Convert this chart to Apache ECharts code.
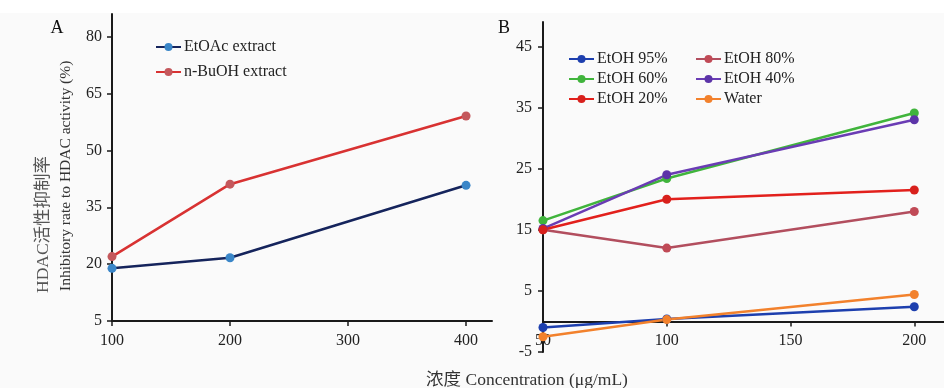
<!DOCTYPE html>
<html>
<head>
<meta charset="utf-8">
<title>HDAC inhibitory rate</title>
<script src="https://cdn.jsdelivr.net/npm/echarts@6/dist/echarts.min.js"></script>
<style>
  html, body { margin: 0; padding: 0; background: #fafafa; }
  #chart { width: 944px; height: 388px; }
</style>
</head>
<body>
<div id="chart"></div>
<script>
  // 图 A：萃取物
  var concA = [100, 200, 400];
  var etoacValues = [18.9, 21.7, 40.8];
  var nbuohValues = [22.0, 41.1, 59.1];
  var ticksAX = [100, 200, 300, 400];
  var ticksAY = [5, 20, 35, 50, 65, 80];

  // 图 B：不同乙醇浓度
  var concB = [50, 100, 200];
  var etoh95Values = [-1.0, 0.4, 2.4];
  var etoh80Values = [15.0, 12.0, 18.0];
  var etoh60Values = [16.5, 23.4, 34.1];
  var etoh40Values = [15.2, 24.0, 33.0];
  var etoh20Values = [15.0, 20.0, 21.5];
  var waterValues = [-2.5, 0.3, 4.4];
  var ticksBX = [50, 100, 150, 200];
  var ticksBY = [-5, 5, 15, 25, 35, 45];

  var SERIF = "'Liberation Serif', 'Noto Sans CJK SC', serif";
  var INK = '#1a1a1a';
  var GRID_B = { left: 543, top: 22, right: 0, bottom: 36 };
  var Y_B = [-5, 49];

  function pairs(xs, ys) {
    return xs.map(function (x, i) { return [x, ys[i]]; });
  }

  function lineSeries(name, idx, xs, ys, lineColor, dotColor) {
    return {
      name: name,
      type: 'line',
      xAxisIndex: idx,
      yAxisIndex: idx,
      data: pairs(xs, ys),
      symbol: 'circle',
      symbolSize: 9,
      lineStyle: { color: lineColor, width: 2.5 },
      itemStyle: { color: dotColor },
      animation: false
    };
  }

  function valueAxis(idx, min, max, ticks, margin) {
    return {
      type: 'value',
      gridIndex: idx,
      min: min,
      max: max,
      splitLine: { show: false },
      axisLine: { show: true, onZero: false, lineStyle: { color: INK, width: 2 } },
      axisTick: { show: true, length: 5, customValues: ticks, lineStyle: { color: INK, width: 1.5 } },
      axisLabel: {
        customValues: ticks,
        margin: margin,
        color: '#222',
        fontSize: 16,
        fontFamily: SERIF
      }
    };
  }

  function legendBlock(left, top, names, gap) {
    return {
      orient: 'vertical',
      left: left,
      top: top,
      padding: 0,
      data: names,
      itemWidth: 25,
      itemHeight: 10,
      itemGap: gap,
      itemStyle: { borderWidth: 0 },
      textStyle: { color: '#222', fontSize: 16, lineHeight: 18, fontFamily: SERIF, padding: [0, 0, 0, -2] }
    };
  }

  var chart = echarts.init(document.getElementById('chart'), null, { renderer: 'canvas' });

  var yA = valueAxis(0, 5, 86, ticksAY, 10);
  var yB = valueAxis(1, Y_B[0], Y_B[1], ticksBY, 11);
  var xA = valueAxis(0, 100, 422, ticksAX, 12);
  var xB = valueAxis(1, 50, 212, ticksBX, 11);

  // 图 B 的横轴画在 y = 0 处（标签随轴线一起上移）
  var plotHB = 388 - GRID_B.top - GRID_B.bottom;
  xB.offset = -(0 - Y_B[0]) / (Y_B[1] - Y_B[0]) * plotHB;

  chart.setOption({
    backgroundColor: '#fafafa',
    animation: false,
    grid: [
      { left: 112, top: 14, right: 452, bottom: 67 },
      GRID_B
    ],
    xAxis: [xA, xB],
    yAxis: [yA, yB],
    legend: [
      legendBlock(155, 38, ['EtOAc extract', 'n-BuOH extract'], 7),
      legendBlock(568, 50, ['EtOH 95%', 'EtOH 60%', 'EtOH 20%'], 2),
      legendBlock(695, 50, ['EtOH 80%', 'EtOH 40%', 'Water'], 2)
    ],
    graphic: [
      { type: 'rect', z: -1, shape: { x: 0, y: 0, width: 944, height: 13 }, style: { fill: '#ffffff' } },
      { type: 'text', x: 57, y: 28, style: { text: 'A', fill: '#111', font: "18px 'Liberation Serif', serif", textAlign: 'center', textVerticalAlign: 'middle' } },
      { type: 'text', x: 504, y: 28, style: { text: 'B', fill: '#111', font: "18px 'Liberation Serif', serif", textAlign: 'center', textVerticalAlign: 'middle' } },
      {
        type: 'text', x: 43, y: 293, rotation: Math.PI / 2,
        style: { text: 'HDAC活性抑制率', fill: '#555', font: "17.5px 'Liberation Serif', 'Noto Sans CJK SC', serif", textAlign: 'left', textVerticalAlign: 'middle' }
      },
      {
        type: 'text', x: 66, y: 291, rotation: Math.PI / 2,
        style: { text: 'Inhibitory rate to HDAC activity (%)', fill: '#333', font: "15.5px 'Liberation Serif', serif", textAlign: 'left', textVerticalAlign: 'middle' }
      },
      {
        type: 'text', x: 527, y: 380,
        style: { text: '浓度 Concentration (μg/mL)', fill: '#333', font: "17.5px 'Liberation Serif', 'Noto Sans CJK SC', serif", textAlign: 'center', textVerticalAlign: 'middle' }
      }
    ],
    series: [
      lineSeries('EtOAc extract', 0, concA, etoacValues, '#15245c', '#3a86c8'),
      lineSeries('n-BuOH extract', 0, concA, nbuohValues, '#d83232', '#c4585c'),
      lineSeries('EtOH 95%', 1, concB, etoh95Values, '#1d3fae', '#1d3fae'),
      lineSeries('EtOH 80%', 1, concB, etoh80Values, '#b24e5e', '#c04a56'),
      lineSeries('EtOH 60%', 1, concB, etoh60Values, '#40b43c', '#40b43c'),
      lineSeries('EtOH 40%', 1, concB, etoh40Values, '#6a3cb4', '#5c34a8'),
      lineSeries('EtOH 20%', 1, concB, etoh20Values, '#e2201c', '#d8201c'),
      lineSeries('Water', 1, concB, waterValues, '#f2812c', '#f2812c')
    ]
  });
</script>
</body>
</html>
